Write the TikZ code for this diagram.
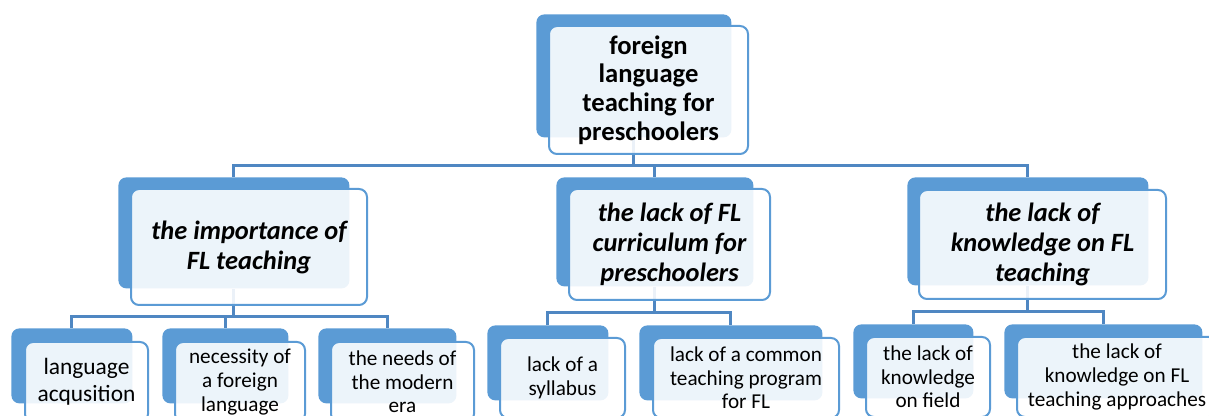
\documentclass[tikz,border=0pt]{standalone}
\usepackage{fontspec}
\setmainfont{Carlito}
\usetikzlibrary{calc,backgrounds}
\definecolor{smblue}{HTML}{5B9BD5}
\definecolor{lineblue}{HTML}{4F87C2}

\tikzset{
	back/.style 2 args={fill=smblue, rounded corners=4pt, anchor=north west, inner sep=0pt,
		minimum width=#1*0.5pt, minimum height=#2*0.5pt},
	front/.style 2 args={draw=smblue, line width=1pt, fill=white, fill opacity=0.89, text opacity=1,
		rounded corners=4pt, anchor=north west, inner sep=0pt, align=center,
		minimum width=#1*0.5pt, minimum height=#2*0.5pt},
	conn/.style={draw=lineblue, line width=1.5pt},
	topfont/.style={font=\fontsize{13.3}{14.4}\selectfont\bfseries},
	midfont/.style={font=\fontsize{13.2}{15}\selectfont\bfseries\itshape},
	lowfont/.style={font=\fontsize{10.6}{11.8}\selectfont},
}

\begin{document}
\begin{tikzpicture}[x=0.5pt, y=-0.5pt]
		\useasboundingbox (0,0) rectangle (1209,416);
		\clip (0,0) rectangle (1209,416);
		
		% Root
		\node[back={195}{123}] (top) at (536,14) {};
		\node[front={199}{128}, topfont] (top-f) at (548,25) {foreign\\language\\teaching for\\preschoolers};
		
		% Importance
		\node[back={231}{111}] (imp) at (118,177) {};
		\node[front={236}{116}, midfont] (imp-f) at (130,188) {the importance of\\FL teaching};
		
		% Curriculum
		\node[back={197}{109}] (lack) at (556,177) {};
		\node[front={201}{111}, midfont] (lack-f) at (568,188) {the lack of FL\\curriculum for\\preschoolers};
		
		% Knowledge
		\node[back={241}{108}] (know) at (907,177) {};
		\node[front={247}{109}, midfont] (know-f) at (918,189) {the lack of\\knowledge on FL\\teaching};
		
		% Leaves under importance
		\node[back={121}{75}] (acq) at (11,328) {};
		\node[front={123}{80}, font=\fontsize{11.7}{13.5}\selectfont] (acq-f) at (24,341) {language\\acqusition};
		\node[back={126}{75}] (nec) at (162,328) {};
		\node[front={130}{80}, lowfont] (nec-f) at (174,341) {necessity of\\a foreign\\language};
		\node[back={138}{75}] (era) at (318,328) {};
		\node[front={143}{80}, lowfont] (era-f) at (330,341) {the needs of\\the modern\\era};
		
		% Leaves under curriculum
		\node[back={121}{75}] (syl) at (487,325) {};
		\node[front={125}{80}, lowfont] (syl-f) at (499,337) {lack of a\\syllabus};
		\node[back={183}{75}] (prog) at (639,325) {};
		\node[front={186}{80}, lowfont] (prog-f) at (652,337) {lack of a common\\teaching program\\for FL};
		
		% Leaves under knowledge
		\node[back={120}{74}] (field) at (853,324) {};
		\node[front={124}{80}, lowfont] (field-f) at (865,336) {the lack of\\knowledge\\on field};
		\node[back={198}{74}] (appr) at (1004,324) {};
		\node[front={200}{80}, lowfont] (appr-f) at (1016,336) {the lack of\\knowledge on FL\\teaching approaches};
		
		\begin{scope}[on background layer]
			% Root to second row
			\coordinate (bus0) at ($(top-f.south)!.5!(lack.north)$);
			\draw[conn] (top.south) -- (top.south |- bus0) -| (imp.north);
			\draw[conn] (top.south |- bus0) -| (lack.north);
			\draw[conn] (top.south |- bus0) -| (know.north);
			
			% Importance to leaves
			\coordinate (bus1) at ($(imp-f.south)!.5!(nec.north)$);
			\draw[conn] (imp.south) -- (imp.south |- bus1) -| (acq.north);
			\draw[conn] (imp.south |- bus1) -| (nec.north);
			\draw[conn] (imp.south |- bus1) -| (era.north);
			
			% Curriculum to leaves
			\coordinate (bus2) at ($(lack-f.south)!.5!(syl.north)$);
			\draw[conn] (lack.south) -- (lack.south |- bus2) -| (syl.north);
			\draw[conn] (lack.south |- bus2) -| (prog.north);
			
			% Knowledge to leaves
			\coordinate (bus3) at ($(know-f.south)!.5!(field.north)$);
			\draw[conn] (know.south) -- (know.south |- bus3) -| (field.north);
			\draw[conn] (know.south |- bus3) -| (appr.north);
		\end{scope}
	\end{tikzpicture}
\end{document}
